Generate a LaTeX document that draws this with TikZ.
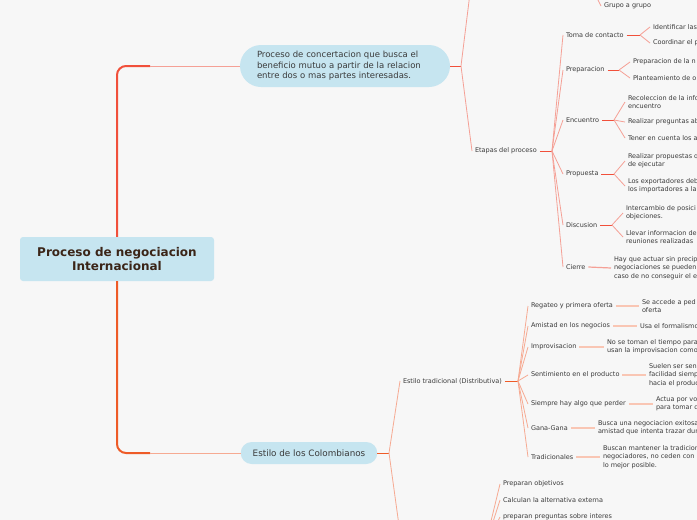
\documentclass[tikz,border=0pt]{standalone}
\usepackage{fontspec}
\setmainfont{DejaVu Sans}
\usepackage{tikz}
\usetikzlibrary{positioning}
\definecolor{paper}{HTML}{F7F7F7}
\definecolor{bubble}{HTML}{C6E5F0}
\definecolor{inkgray}{HTML}{3A3A3A}
\definecolor{inkbrown}{HTML}{3B2518}
\definecolor{redstrong}{HTML}{F1503B}
\definecolor{redsoft}{HTML}{F5A096}
\definecolor{orangestrong}{HTML}{EE5B27}
\definecolor{orangesoft}{HTML}{F6AA92}
\definecolor{peach}{HTML}{F9C6B4}
\tikzset{
  root/.style={fill=bubble, rounded corners=3pt, align=center, text=inkbrown, font=\fontsize{12}{14}\selectfont\bfseries, minimum width=194pt, minimum height=44pt, inner sep=0pt},
  topic/.style={fill=bubble, rounded corners=11pt, text=inkgray, font=\fontsize{8.5}{10.5}\selectfont, minimum height=22pt, inner xsep=12pt, inner ysep=0pt},
  bigtopic/.style={topic, rounded corners=21pt, minimum height=42pt, minimum width=210pt, text width=176pt, align=left},
  item/.style={anchor=west, text=inkgray, align=left, font=\fontsize{6.5}{8.3}\selectfont, inner sep=0pt, outer xsep=3pt},
  trunkup/.style={draw=redstrong, line width=2pt},
  trunklow/.style={draw=orangestrong, line width=2pt},
  stemred/.style={draw=redstrong, line width=1pt},
  twigred/.style={draw=redsoft, line width=0.8pt},
  stemorange/.style={draw=orangestrong, line width=1pt},
  twigorange/.style={draw=orangesoft, line width=0.8pt},
  leafline/.style={draw=peach, line width=1.5pt}
}

\begin{document}
\begin{tikzpicture}[x=1pt,y=-1pt]
  \fill[paper] (0,0) rectangle (697,520);
  \useasboundingbox (0,0) rectangle (697,520);
  \clip (0,0) rectangle (697,520);

  \node[root] (root) at (117,259) {Proceso de negociacion\\Internacional};

  % rama superior
  \node[bigtopic] (concert) at (345,66) {Proceso de concertacion que busca el beneficio mutuo a partir de la relacion entre dos o mas partes interesadas.};
  \node[item] (grupo) at (601,6) {Grupo a grupo};
  \node[item] (etapas) at (472,151) {Etapas del proceso};

  \node[item] (toma) at (563,35) {Toma de contacto};
  \node[item] (ident) at (650,27) {Identificar las};
  \node[item] (coord) at (650,43) {Coordinar el p};

  \node[item] (prep) at (563,70) {Preparacion};
  \node[item] (prepneg) at (630,62) {Preparacion de la n};
  \node[item] (plant) at (630,78) {Planteamiento de o};

  \node[item] (encu) at (563,120) {Encuentro};
  \node[item] (recol) at (625,102) {Recoleccion de la info\\encuentro};
  \node[item] (pregab) at (625,122) {Realizar preguntas ab};
  \node[item] (tener) at (625,138) {Tener en cuenta los a};

  \node[item] (prop) at (563,174) {Propuesta};
  \node[item] (realprop) at (625,161) {Realizar propuestas q\\de ejecutar};
  \node[item] (export) at (625,186) {Los exportadores deb\\los importadores a la};

  \node[item] (disc) at (563,225) {Discusion};
  \node[item] (inter) at (623,213) {Intercambio de posici\\objeciones.};
  \node[item] (llevar) at (623,237) {Llevar informacion de\\reuniones realizadas};

  \node[item] (cierre) at (563,267) {Cierre};
  \node[item] (hay) at (611,268) {Hay que actuar sin precip\\negociaciones se pueden\\caso de no conseguir el e};

  % rama inferior
  \node[topic, font=\fontsize{8.8}{10.5}\selectfont] (colomb) at (309,453) {Estilo de los Colombianos};
  \node[item] (trad) at (400,381) {Estilo tradicional (Distributiva)};

  \node[item] (regateo) at (528,306) {Regateo y primera oferta};
  \node[item] (seaccede) at (639,306) {Se accede a ped\\oferta};
  \node[item] (amistad) at (528,326) {Amistad en los negocios};
  \node[item] (formal) at (637,326) {Usa el formalismo};
  \node[item] (improv) at (528,347) {Improvisacion};
  \node[item] (notoman) at (604,347) {No se toman el tiempo para\\usan la improvisacion como};
  \node[item] (sentim) at (528,375) {Sentimiento en el producto};
  \node[item] (suelen) at (646,375) {Suelen ser sen\\facilidad siemp\\hacia el produc};
  \node[item] (siempre) at (528,404) {Siempre hay algo que perder};
  \node[item] (actua) at (653,404) {Actua por vo\\para tomar d};
  \node[item] (gana) at (528,428) {Gana-Gana};
  \node[item] (busca) at (595,428) {Busca una negociacion exitosa\\amistad que intenta trazar dur};
  \node[item] (tradic) at (528,457) {Tradicionales};
  \node[item] (buscan) at (600,457) {Buscan mantener la tradicion\\negociadores, no ceden con\\lo mejor posible.};

  \node[item] (prepobj) at (500,484) {Preparan objetivos};
  \node[item] (calcul) at (500,500) {Calculan la alternativa externa};
  \node[item] (pregint) at (500,517) {preparan preguntas sobre interes};

  % puntos de union
  \coordinate (upknee) at (150,66);
  \coordinate (lowknee) at (150,453);
  \coordinate (cJ) at (461,66);
  \coordinate (topOff) at (471,-15);
  \coordinate (grupoOff) at (593,-10);
  \coordinate (etJ) at (552,151);
  \coordinate (tomaJ) at (640,35);
  \coordinate (prepJ) at (619,70);
  \coordinate (encJ) at (614,120);
  \coordinate (propJ) at (614,174);
  \coordinate (discJ) at (612,225);
  \coordinate (colJ) at (389,453);
  \coordinate (bottomOff) at (401,540);
  \coordinate (tradJ) at (518,381);
  \coordinate (lowOff) at (484,550);

  \draw[trunkup, rounded corners=9pt] (root.north) |- (upknee);
  \draw[twigred] (upknee) -- (concert.west);
  \draw[trunklow, rounded corners=9pt] (root.south) |- (lowknee);
  \draw[twigorange] (lowknee) -- (colomb.west);

  \draw[stemred] (concert.east) -- (cJ);
  \draw[twigred] (cJ) -- (topOff);
  \draw[twigred] (cJ) -- (etapas.west);
  \draw[twigred] (grupoOff) -- (grupo.west);

  \draw[stemred] (etapas.east) -- (etJ);
  \draw[twigred] (etJ) -- (toma.west);
  \draw[twigred] (etJ) -- (prep.west);
  \draw[twigred] (etJ) -- (encu.west);
  \draw[twigred] (etJ) -- (prop.west);
  \draw[twigred] (etJ) -- (disc.west);
  \draw[twigred] (etJ) -- (cierre.west);

  \draw[stemred] (toma.east) -- (tomaJ);
  \draw[twigred] (tomaJ) -- (ident.west);
  \draw[twigred] (tomaJ) -- (coord.west);
  \draw[stemred] (prep.east) -- (prepJ);
  \draw[twigred] (prepJ) -- (prepneg.west);
  \draw[twigred] (prepJ) -- (plant.west);
  \draw[stemred] (encu.east) -- (encJ);
  \draw[twigred] (encJ) -- (recol.west);
  \draw[twigred] (encJ) -- (pregab.west);
  \draw[twigred] (encJ) -- (tener.west);
  \draw[stemred] (prop.east) -- (propJ);
  \draw[twigred] (propJ) -- (realprop.west);
  \draw[twigred] (propJ) -- (export.west);
  \draw[stemred] (disc.east) -- (discJ);
  \draw[twigred] (discJ) -- (inter.west);
  \draw[twigred] (discJ) -- (llevar.west);
  \draw[twigred, line width=1.2pt] (cierre.east) -- (hay.west);

  \draw[stemorange] (colomb.east) -- (colJ);
  \draw[twigorange] (colJ) -- (trad.west);
  \draw[twigorange] (colJ) -- (bottomOff);

  \draw[stemorange] (trad.east) -- (tradJ);
  \draw[twigorange] (tradJ) -- (regateo.west);
  \draw[twigorange] (tradJ) -- (amistad.west);
  \draw[twigorange] (tradJ) -- (improv.west);
  \draw[twigorange] (tradJ) -- (sentim.west);
  \draw[twigorange] (tradJ) -- (siempre.west);
  \draw[twigorange] (tradJ) -- (gana.west);
  \draw[twigorange] (tradJ) -- (tradic.west);

  \draw[leafline] (regateo.east) -- (seaccede.west);
  \draw[leafline] (amistad.east) -- (formal.west);
  \draw[leafline] (improv.east) -- (notoman.west);
  \draw[leafline] (sentim.east) -- (suelen.west);
  \draw[leafline] (siempre.east) -- (actua.west);
  \draw[leafline] (gana.east) -- (busca.west);
  \draw[leafline] (tradic.east) -- (buscan.west);

  \draw[twigorange] (lowOff) -- (prepobj.west);
  \draw[twigorange] (lowOff) -- (calcul.west);
  \draw[twigorange] (lowOff) -- (pregint.west);
\end{tikzpicture}
\end{document}
